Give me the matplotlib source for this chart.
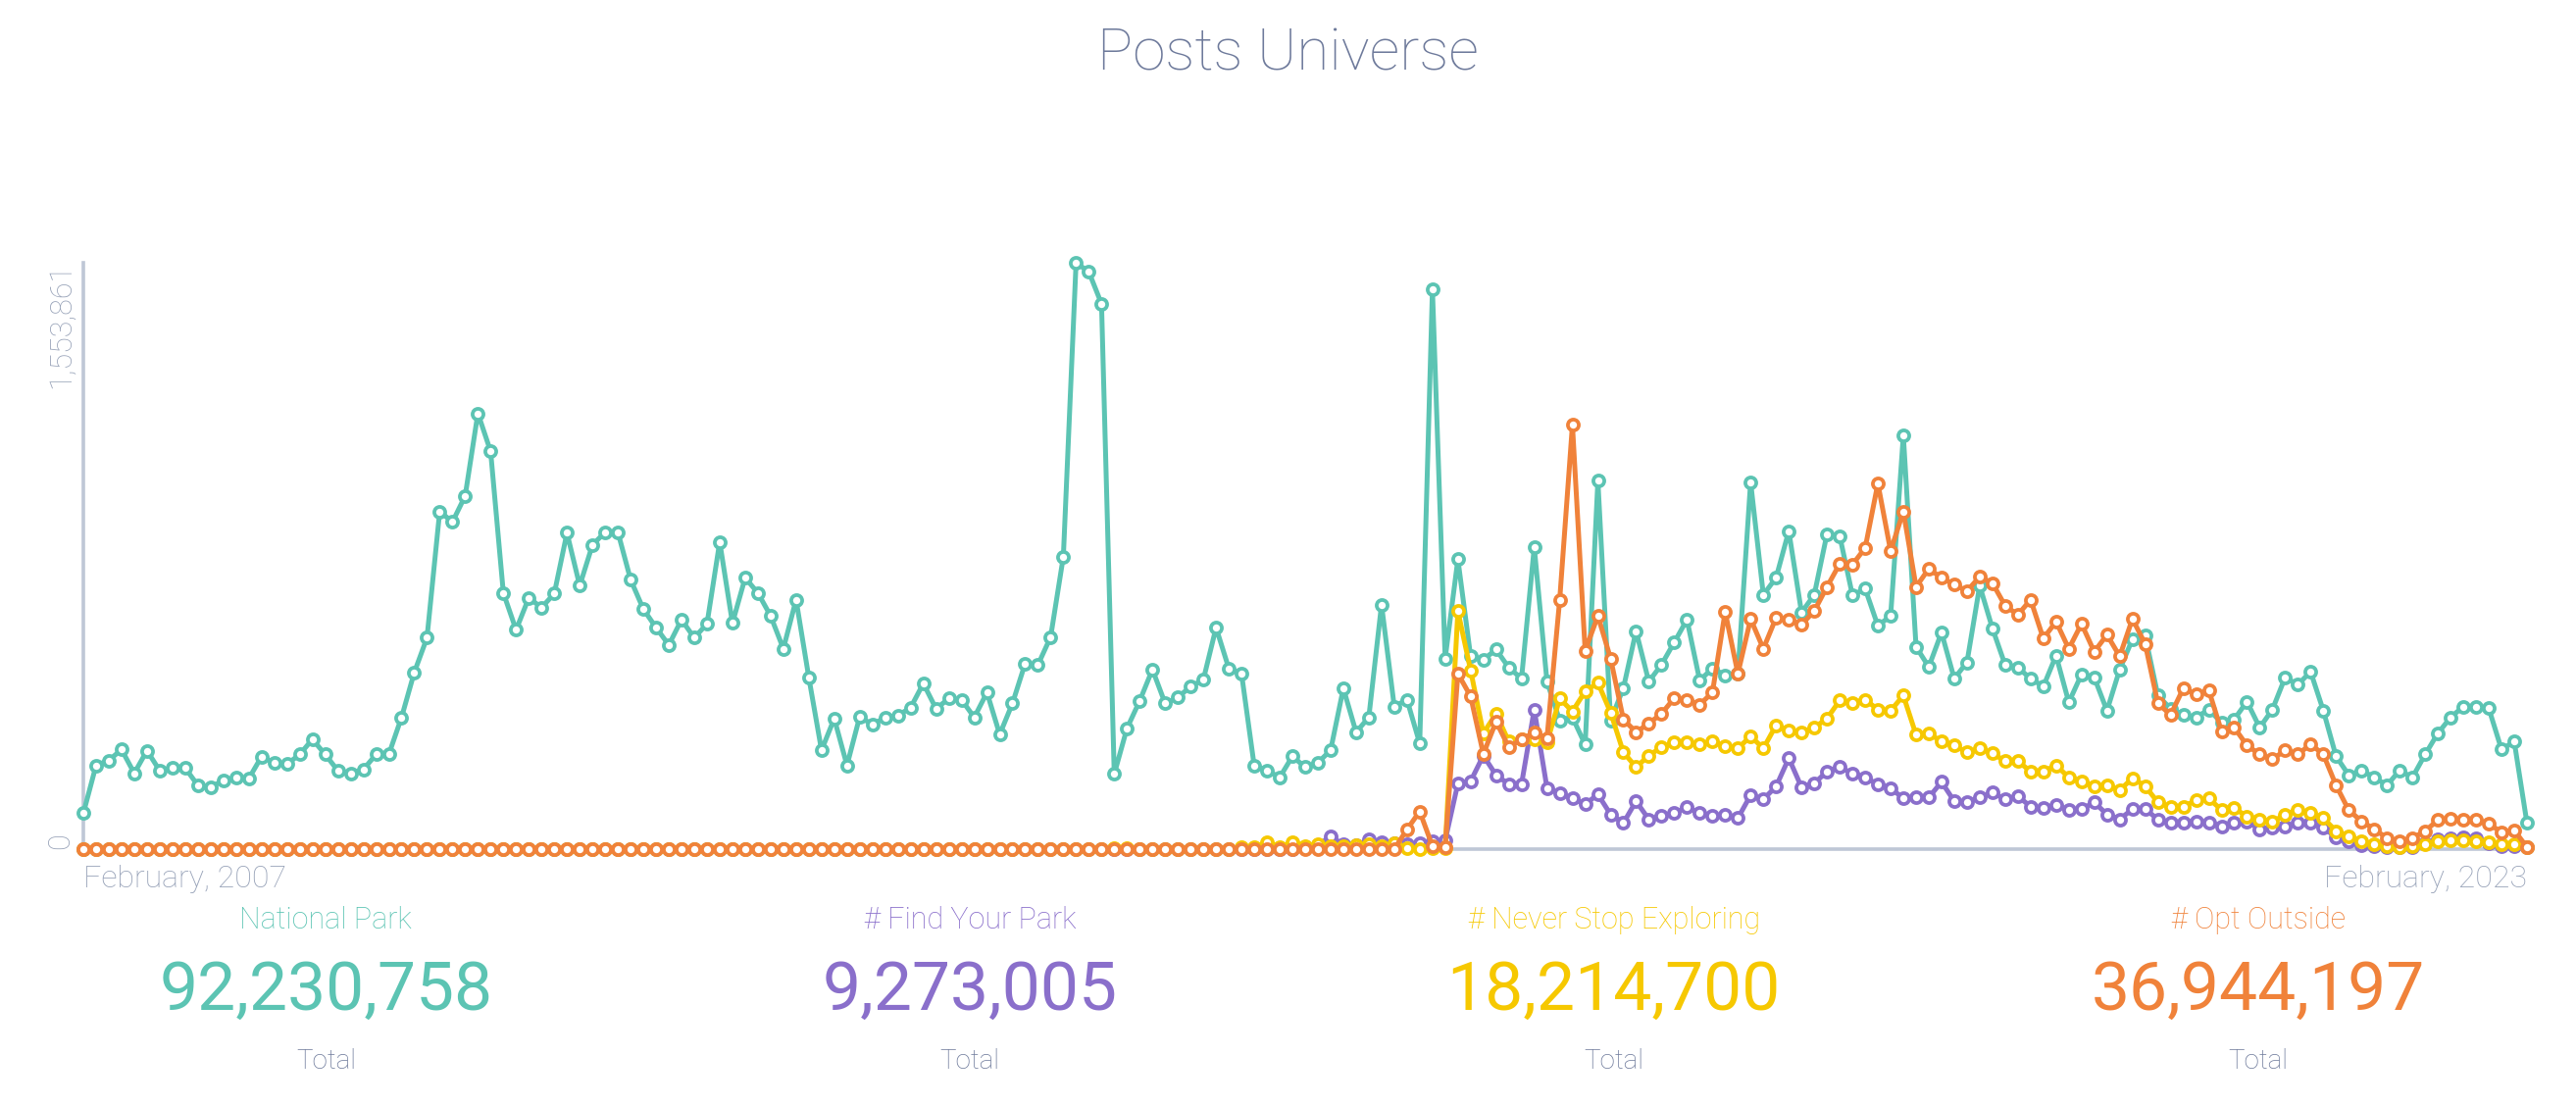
import numpy as np
import matplotlib
matplotlib.use("Agg")
import matplotlib.pyplot as plt
from matplotlib import transforms

# ---------------- data (monthly, Feb 2007 .. Feb 2023, values in thousands of posts) -------------
TITLE = "Posts Universe"
START_LABEL = "February, 2007"
END_LABEL = "February, 2023"
Y_MAX = 1553861
Y_MAX_LABEL = "1,553,861"
Y_MIN_LABEL = "0"

series_names = ["National Park", "# Find Your Park", "# Never Stop Exploring", "# Opt Outside"]
series_totals = ["92,230,758", "9,273,005", "18,214,700", "36,944,197"]
series_colors = ["#5CC4B3", "#8A6FCB", "#F6C800", "#F0823A"]

national_park = [
    95, 222, 235, 264, 201, 261, 208, 215, 215, 169,
    164, 182, 190, 187, 245, 229, 225, 251, 291, 251,
    208, 201, 211, 251, 251, 349, 468, 560, 895, 867,
    936, 1155, 1054, 679, 581, 666, 640, 677, 838, 698,
    806, 840, 840, 714, 636, 587, 541, 608, 560, 597,
    814, 599, 719, 679, 618, 531, 661, 455, 262, 346,
    222, 351, 330, 349, 354, 375, 439, 372, 399, 396,
    349, 415, 304, 386, 492, 488, 562, 775, 1553.861, 1530,
    1445, 199, 320, 393, 476, 386, 402, 431, 449, 587,
    479, 465, 220, 209, 190, 246, 217, 229, 262, 426,
    310, 349, 648, 378, 396, 280, 1483, 505, 768, 511,
    502, 529, 481, 452, 800, 444, 341, 349, 277, 976,
    341, 426, 578, 444, 489, 548, 608, 447, 479, 461,
    465, 973, 674, 719, 843, 627, 674, 835, 830, 673,
    690, 592, 618, 1096, 536, 483, 574, 452, 495, 698,
    585, 488, 481, 452, 431, 513, 389, 463, 455, 367,
    476, 556, 566, 407, 372, 356, 349, 370, 335, 344,
    391, 322, 370, 455, 436, 470, 367, 246, 196, 209,
    190, 169, 209, 190, 251, 307, 349, 378, 378, 373,
    264, 285, 69,
]

find_your_park = [0] * 96 + [
    5, 10, 34, 12, 10, 25, 18, 15, 12, 15,
    20, 23, 174, 180, 248, 196, 172, 172, 370, 162,
    148, 134, 119, 145, 92, 69, 127, 79, 88, 95,
    111, 95, 88, 90, 82, 143, 132, 166, 241, 164,
    174, 206, 217, 201, 190, 172, 162, 134, 137, 137,
    178, 127, 125, 137, 150, 132, 140, 113, 108, 118,
    103, 106, 124, 92, 79, 106, 106, 79, 69, 71,
    74, 71, 61, 69, 74, 53, 56, 60, 69, 71,
    56, 32, 21, 11, 7, 5, 5, 5, 16, 26,
    29, 32, 29, 16, 7, 7, 5,
]

never_stop_exploring = [0] * 81 + [
    3, 3, 0, 0, 0, 0, 0, 0, 0, 0,
    5, 5, 18, 6, 18, 8, 12, 8, 8, 10,
    12, 8, 15, 3, 0, 2, 3, 631, 474, 307,
    359, 285, 291, 291, 282, 399, 365, 418, 441, 362,
    257, 217, 248, 270, 282, 282, 278, 285, 273, 267,
    299, 267, 328, 314, 310, 322, 346, 394, 388, 396,
    370, 367, 407, 303, 307, 285, 275, 256, 267, 254,
    233, 233, 206, 206, 222, 190, 180, 167, 169, 156,
    188, 167, 124, 111, 113, 129, 134, 104, 108, 87,
    79, 72, 92, 104, 95, 82, 48, 35, 21, 13,
    7, 5, 7, 13, 21, 23, 23, 21, 18, 13,
    13, 5,
]

opt_outside = [0] * 104 + [
    52, 100, 8, 6, 465, 405, 252, 338, 270, 291,
    309, 294, 661, 1124, 526, 618, 505, 344, 310, 333,
    359, 400, 396, 383, 415, 629, 465, 610, 531, 613,
    608, 595, 631, 695, 756, 754, 798, 969, 790, 895,
    695, 743, 719, 701, 684, 722, 705, 645, 621, 661,
    558, 603, 531, 597, 523, 568, 511, 610, 544, 386,
    356, 426, 410, 421, 312, 322, 275, 251, 238, 262,
    251, 278, 251, 169, 103, 74, 53, 29, 21, 29,
    48, 77, 81, 79, 77, 67, 45, 50, 5,
]

series_values = [national_park, find_your_park, never_stop_exploring, opt_outside]

# ---------------- style -------------
W, H = 2627, 1128
TITLE_COLOR = "#6E7A9B"
AXIS_TEXT_COLOR = "#96A1B7"
AXIS_LINE_COLOR = "#BEC7D6"
FONT = ["Roboto", "DejaVu Sans"]

fig = plt.figure(figsize=(W / 100, H / 100), dpi=100)
fig.patch.set_facecolor("white")

ax_left, ax_right, ax_top, ax_bottom = 85, 2577, 268, 866
ax = fig.add_axes([ax_left / W, (H - ax_bottom) / H,
                   (ax_right - ax_left) / W, (ax_bottom - ax_top) / H])

n = len(national_park)
x = np.arange(n)
for k, (vals, col) in enumerate(zip(series_values, series_colors)):
    ax.plot(x, vals, color=col, lw=3.6, marker="o", ms=8.0, mew=2.7,
            mfc="white", mec=col, clip_on=False, zorder=3 + k,
            solid_joinstyle="round")

ax.set_xlim(0, n - 1)
ax.set_ylim(0, Y_MAX / 1000)
for s in ["top", "right"]:
    ax.spines[s].set_visible(False)
for s in ["left", "bottom"]:
    ax.spines[s].set_color(AXIS_LINE_COLOR)
    ax.spines[s].set_linewidth(2.6)
    ax.spines[s].set_zorder(1)
ax.set_xticks([])
ax.set_yticks([])
ax.patch.set_alpha(0)

# y-axis labels (rotated)
off = transforms.ScaledTranslation(-23 / 100, 0, fig.dpi_scale_trans)
ytr = transforms.blended_transform_factory(ax.transAxes, ax.transData) + off
ax.text(0, 0, Y_MIN_LABEL, rotation=90, ha="center", va="bottom", transform=ytr,
        fontsize=22, color=AXIS_TEXT_COLOR, family=FONT, fontweight="light")
ax.text(0, Y_MAX / 1000, Y_MAX_LABEL, rotation=90, ha="center", va="top", transform=ytr,
        fontsize=22, color=AXIS_TEXT_COLOR, family=FONT, fontweight="light")

# x-axis labels
def fy(py):
    return 1 - py / H

fig.text(ax_left / W, fy(905), START_LABEL, ha="left", va="baseline",
         fontsize=23, color=AXIS_TEXT_COLOR, family=FONT, fontweight="light")
fig.text(ax_right / W, fy(905), END_LABEL, ha="right", va="baseline",
         fontsize=23, color=AXIS_TEXT_COLOR, family=FONT, fontweight="light")

# title
fig.text(0.5, fy(71), TITLE, ha="center", va="baseline", fontsize=43.5,
         color=TITLE_COLOR, family=FONT, fontweight="light")

# summary blocks
for k, (name, total, col) in enumerate(zip(series_names, series_totals, series_colors)):
    cx = (k + 0.5) / 4 + 0.0015
    fig.text(cx, fy(947), name, ha="center", va="baseline", fontsize=22,
             color=col, family=FONT, fontweight="light")
    fig.text(cx, fy(1030), total, ha="center", va="baseline", fontsize=50,
             color=col, family=FONT, fontweight="normal")
    fig.text(cx, fy(1090), "Total", ha="center", va="baseline", fontsize=20,
             color=TITLE_COLOR, family=FONT, fontweight="light")

fig.savefig("out.png", dpi=100, facecolor="white")
